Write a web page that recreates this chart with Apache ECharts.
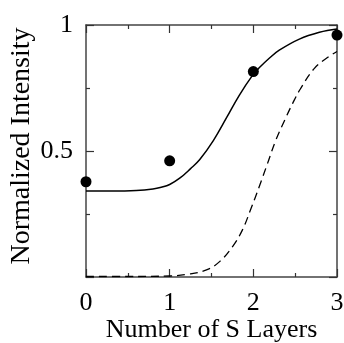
<!DOCTYPE html>
<html>
<head>
<meta charset="utf-8">
<script src="https://cdn.jsdelivr.net/npm/echarts@6/dist/echarts.min.js"></script>
<style>
  html, body { margin: 0; padding: 0; background: #fff; }
  #main { width: 344px; height: 343px; }
</style>
</head>
<body>
<div id="main"></div>
<script>
// measured points (Number of S layers, normalized intensity)
var layers = [0, 1, 2, 3];
var measured = [0.378, 0.461, 0.815, 0.96];

// solid fit curve
var fitX = [0, 0.3, 0.6, 0.8, 0.9, 1.0, 1.12, 1.25, 1.36, 1.52, 1.68, 1.83, 1.99, 2.07, 2.19, 2.31, 2.55, 2.79, 3.0];
var fitY = [0.341, 0.341, 0.343, 0.349, 0.356, 0.367, 0.392, 0.43, 0.466, 0.54, 0.632, 0.72, 0.8, 0.83, 0.868, 0.9, 0.944, 0.971, 0.984];

// dashed curve
var dashX = [0, 0.5, 1.0, 1.2, 1.44, 1.6, 1.75, 1.87, 1.97, 2.07, 2.17, 2.27, 2.38, 2.47, 2.56, 2.73, 2.9, 3.0];
var dashY = [0.002, 0.002, 0.004, 0.01, 0.028, 0.062, 0.12, 0.187, 0.27, 0.358, 0.451, 0.544, 0.626, 0.689, 0.745, 0.828, 0.874, 0.895];

function pairs(xs, ys) {
    return xs.map(function (x, i) { return [x, ys[i]]; });
}

var font = 'Liberation Serif';
var frame = { show: true, onZero: false, lineStyle: { color: '#444', width: 1.5 } };
var ticks = { show: true, inside: true, length: 8, lineStyle: { color: '#333', width: 1.2 } };
var minor = { show: true, splitNumber: 2, length: 4, lineStyle: { color: '#333', width: 1.2 } };

var chartDom = document.getElementById('main');
var myChart = echarts.init(chartDom, null, { renderer: 'canvas' });
var option = {
    animation: false,
    grid: { left: 86, right: 7, top: 25, bottom: 66, outerBoundsMode: 'none', containLabel: false },
    xAxis: [
        {
            type: 'value', min: 0, max: 3, interval: 1, position: 'bottom',
            name: 'Number of S Layers', nameLocation: 'middle', nameGap: 40, nameMoveOverlap: false,
            nameTextStyle: { fontFamily: font, fontSize: 26, color: '#000' },
            axisLine: frame, axisTick: ticks, minorTick: minor,
            splitLine: { show: false }, minorSplitLine: { show: false },
            axisLabel: { fontFamily: font, fontSize: 26, color: '#000', margin: 13 }
        },
        {
            type: 'value', min: 0, max: 3, interval: 1, position: 'top',
            axisLine: frame, axisTick: ticks, minorTick: minor,
            splitLine: { show: false }, axisLabel: { show: false }
        }
    ],
    yAxis: [
        {
            type: 'value', min: 0, max: 1, interval: 0.5, position: 'left',
            name: 'Normalized Intensity', nameLocation: 'middle', nameGap: 50, nameMoveOverlap: false,
            nameTextStyle: { fontFamily: font, fontSize: 28, color: '#000', padding: [0, 0, 0, 10] },
            axisLine: frame, axisTick: ticks, minorTick: minor,
            splitLine: { show: false }, minorSplitLine: { show: false },
            axisLabel: {
                fontFamily: font, fontSize: 26, color: '#000', margin: 13,
                formatter: function (v) { return v === 0 ? '' : String(v); }
            }
        },
        {
            type: 'value', min: 0, max: 1, interval: 0.5, position: 'right',
            axisLine: frame, axisTick: ticks, minorTick: minor,
            splitLine: { show: false }, axisLabel: { show: false }
        }
    ],
    series: [
        {
            type: 'line', smooth: 0.4, showSymbol: false,
            data: pairs(fitX, fitY),
            lineStyle: { color: '#000', width: 1.5 }
        },
        {
            type: 'line', smooth: 0.4, showSymbol: false,
            data: pairs(dashX, dashY),
            lineStyle: { color: '#000', width: 1.3, type: [8, 5] }
        },
        {
            type: 'scatter', clip: false, symbolSize: 11,
            data: pairs(layers, measured),
            itemStyle: { color: '#000', opacity: 1 }
        }
    ]
};
option && myChart.setOption(option);
</script>
</body>
</html>
